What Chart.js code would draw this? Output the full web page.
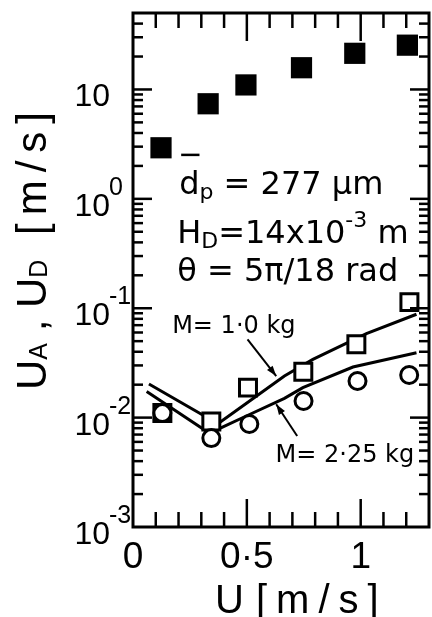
<!DOCTYPE html>
<html><head><meta charset="utf-8">
<script src="https://cdn.jsdelivr.net/npm/chart.js@4.4.0/dist/chart.umd.min.js"></script>
<style>html,body{margin:0;padding:0;background:#fff}#wrap{width:432px;height:617px}</style>
</head><body><div id="wrap"><canvas id="c" width="432" height="617"></canvas></div>
<script>
// ---- data ----
const uD_x = [0.123, 0.330, 0.496, 0.740, 0.974, 1.205];
const uD_y = [2.93, 7.40, 11.0, 15.8, 21.4, 25.4];
const m1_x = [0.129, 0.344, 0.505, 0.748, 0.981, 1.214];
const m1_y = [0.0110, 0.0092, 0.0188, 0.0263, 0.0469, 0.1137];
const m2_x = [0.129, 0.344, 0.511, 0.749, 0.986, 1.213];
const m2_y = [0.0110, 0.0065, 0.00875, 0.0142, 0.0216, 0.0245];
const fit1_x = [0.07, 0.373, 0.5, 0.665, 0.79, 1.025, 1.245];
const fit1_y = [0.0203, 0.0088, 0.0136, 0.0240, 0.0341, 0.0586, 0.0881];
const fit2_x = [0.06, 0.336, 0.5, 0.665, 0.746, 0.966, 1.245];
const fit2_y = [0.0173, 0.0072, 0.0104, 0.0150, 0.0188, 0.0290, 0.0392];
const xTickValues = [0, 0.5, 1];
const xTickLabels = ['0', '0·5', '1'];
const yDecadeValues = [0.001, 0.01, 0.1, 1, 10];
const yDecadeExponents = ['-3', '-2', '-1', '0', ''];
const xMinorStep = 0.1;
const xRange = [0, 1.3];
const yRange = [0.001, 50];
// annotations in data coordinates
const labelM1 = {x: 0.172, y: 0.0594, text: 'M= 1·0 kg'};
const labelM2 = {x: 0.626, y: 0.00392, text: 'M= 2·25 kg'};
const arrowM1 = {from: [0.503, 0.052], to: [0.629, 0.024]};
const arrowM2 = {from: [0.721, 0.00679], to: [0.629, 0.01324]};
const infoX = 0.194;
const infoY = [1.11, 0.396, 0.178];

const pts = (xs, ys) => xs.map((x, i) => ({x, y: ys[i]}));

function parts(ctx, x, y, list) {
  for (const p of list) {
    ctx.font = p.f;
    ctx.fillText(p.t, x + (p.dx || 0), y + (p.dy || 0));
    x += ctx.measureText(p.t).width + (p.dx || 0);
  }
  return x;
}
function line(ctx, x1, y1, x2, y2) { ctx.beginPath(); ctx.moveTo(x1, y1); ctx.lineTo(x2, y2); ctx.stroke(); }

const framePlugin = {
  id: 'frame',
  afterDraw(chart) {
    const ctx = chart.ctx, ca = chart.chartArea, xs = chart.scales.x, ys = chart.scales.y;
    ctx.save();
    ctx.strokeStyle = '#000'; ctx.fillStyle = '#000';
    // x ticks (top and bottom, inward)
    ctx.lineWidth = 2.5;
    for (let i = 1; i * xMinorStep < xRange[1] - 1e-9; i++) {
      const v = i * xMinorStep, px = xs.getPixelForValue(v);
      const len = (i % 5 === 0) ? 28 : 15;
      line(ctx, px, ca.top, px, ca.top + len);
      line(ctx, px, ca.bottom, px, ca.bottom - len);
    }
    // y ticks (left and right, inward)
    for (let d = -3; d <= 1; d++) {
      for (let m = 1; m <= 9; m++) {
        const v = m * Math.pow(10, d);
        if (v <= yRange[0] * 1.0001 || v >= yRange[1] * 0.9999) continue;
        const py = ys.getPixelForValue(v);
        const len = m === 1 ? 19 : 10;
        line(ctx, ca.left, py, ca.left + len, py);
        line(ctx, ca.right, py, ca.right - len, py);
      }
    }
    // frame
    ctx.lineWidth = 3;
    ctx.strokeRect(ca.left, ca.top, ca.right - ca.left, ca.bottom - ca.top);

    // y tick labels
    ctx.textBaseline = 'alphabetic';
    yDecadeValues.forEach((v, i) => {
      const py = ys.getPixelForValue(v);
      ctx.font = "32px 'Liberation Sans'";
      ctx.textAlign = 'right';
      ctx.fillText('10', 110, py + 17);
      if (yDecadeExponents[i]) {
        ctx.textAlign = 'left';
        ctx.font = "25px 'Liberation Sans'";
        ctx.fillText(yDecadeExponents[i], 109, py - 4);
      }
    });
    // x tick labels
    ctx.textAlign = 'center';
    ctx.font = "37px 'Liberation Sans'";
    xTickValues.forEach((v, i) => {
      ctx.fillText(xTickLabels[i], xs.getPixelForValue(v), 568);
    });
    // x title
    ctx.textAlign = 'left';
    ctx.font = "40px 'Liberation Sans'";
    ctx.fillText('U', 215, 613);
    ctx.letterSpacing = '9px';
    ctx.fillText('[m/s]', 256, 613);
    ctx.letterSpacing = '0px';
    // y title (rotated)
    ctx.save();
    ctx.translate(46, 390);
    ctx.rotate(-Math.PI / 2);
    const big = "42px 'Liberation Sans'", sub = "25px 'Liberation Sans'";
    parts(ctx, 0, 0, [
      {t: 'U', f: big}, {t: 'A', f: sub, dy: 1},
      {t: ' , ', f: big}, {t: 'U', f: big}, {t: 'D', f: sub, dy: 1}
    ]);
    ctx.letterSpacing = '8px';
    ctx.font = big;
    ctx.fillText('[m/s]', 155, 0);
    ctx.letterSpacing = '0px';
    ctx.restore();

    // info block
    const f32 = "32px 'DejaVu Sans'", f22 = "22px 'DejaVu Sans'";
    const ix = xs.getPixelForValue(infoX);
    const y1 = ys.getPixelForValue(infoY[0]), y2 = ys.getPixelForValue(infoY[1]), y3 = ys.getPixelForValue(infoY[2]);
    ctx.font = f32;
    const dw = ctx.measureText('d').width;
    parts(ctx, ix + 2, y1, [
      {t: 'd', f: f32}, {t: 'p', f: f22, dy: 5}, {t: ' = 277 µm', f: f32}
    ]);
    ctx.lineWidth = 2.5;
    line(ctx, ix + 4, y1 - 39, ix + 2 + dw, y1 - 39);
    parts(ctx, ix, y2, [
      {t: 'H', f: f32}, {t: 'D', f: f22, dy: 5}, {t: '=14x10', f: f32},
      {t: '-3', f: f22, dy: -16}, {t: ' m', f: f32}
    ]);
    parts(ctx, ix, y3, [{t: 'θ = 5π/18 rad', f: f32}]);

    // curve labels and arrows
    const f24 = "24px 'DejaVu Sans'";
    ctx.font = f24;
    ctx.fillText(labelM1.text, xs.getPixelForValue(labelM1.x), ys.getPixelForValue(labelM1.y));
    ctx.fillText(labelM2.text, xs.getPixelForValue(labelM2.x), ys.getPixelForValue(labelM2.y));
    for (const a of [arrowM1, arrowM2]) {
      const x1 = xs.getPixelForValue(a.from[0]), y1a = ys.getPixelForValue(a.from[1]);
      const x2 = xs.getPixelForValue(a.to[0]), y2a = ys.getPixelForValue(a.to[1]);
      ctx.lineWidth = 2;
      line(ctx, x1, y1a, x2, y2a);
      const ang = Math.atan2(y2a - y1a, x2 - x1), L = 11, W = 0.33;
      ctx.beginPath();
      ctx.moveTo(x2, y2a);
      ctx.lineTo(x2 - L * Math.cos(ang - W), y2a - L * Math.sin(ang - W));
      ctx.lineTo(x2 - L * Math.cos(ang + W), y2a - L * Math.sin(ang + W));
      ctx.closePath(); ctx.fill();
    }
    ctx.restore();
  }
};

new Chart(document.getElementById('c'), {
  type: 'scatter',
  data: {
    datasets: [
      {label: 'M = 2.25 kg', data: pts(m2_x, m2_y), pointStyle: 'circle', pointRadius: 8.5,
       pointBorderWidth: 3, pointBorderColor: '#000', pointBackgroundColor: '#fff'},
      {label: 'M = 1.0 kg', data: pts(m1_x, m1_y), pointStyle: 'rect', pointRadius: 12,
       pointBorderWidth: 3, pointBorderColor: '#000', pointBackgroundColor: '#fff'},
      {label: 'U_D', data: pts(uD_x, uD_y), pointStyle: 'rect', pointRadius: 15,
       pointBorderWidth: 0, pointBackgroundColor: '#000', pointBorderColor: '#000'},
      {label: 'fit 1.0', data: pts(fit1_x, fit1_y), showLine: true, pointRadius: 0,
       borderColor: '#000', borderWidth: 3, tension: 0, fill: false},
      {label: 'fit 2.25', data: pts(fit2_x, fit2_y), showLine: true, pointRadius: 0,
       borderColor: '#000', borderWidth: 3, tension: 0, fill: false}
    ]
  },
  options: {
    responsive: false, animation: false,
    layout: {autoPadding: false, padding: {left: 133, right: 3, top: 13, bottom: 90}},
    plugins: {legend: {display: false}, tooltip: {enabled: false}},
    scales: {
      x: {type: 'linear', min: xRange[0], max: xRange[1], display: false},
      y: {type: 'logarithmic', min: yRange[0], max: yRange[1], display: false}
    }
  },
  plugins: [framePlugin]
});
</script>
</body></html>
